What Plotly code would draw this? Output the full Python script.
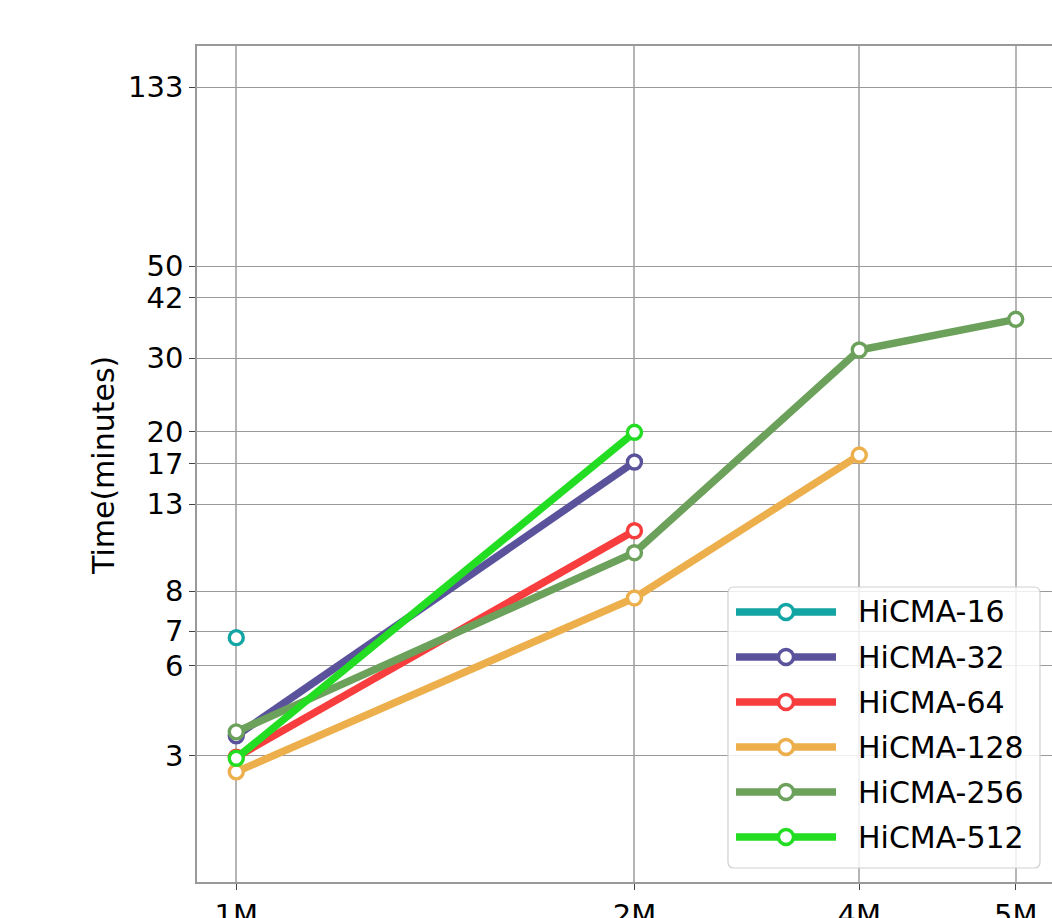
import plotly.graph_objects as go

# ---- data ----
x_vals = [1.0, 2.0, 2.958, 3.884]          # positions of the four problem sizes on the log x-axis
x_labels = ["1M", "2M", "4M", "5M"]

y_tickvals = [3.19, 5.27, 6.40, 8.00, 13.0, 16.25, 19.43, 29.34, 41.0, 49.0, 132.9]
y_ticktext = ["3", "6", "7", "8", "13", "17", "20", "30", "42", "50", "133"]

series_names = ["HiCMA-16", "HiCMA-32", "HiCMA-64", "HiCMA-128", "HiCMA-256", "HiCMA-512"]
hicma_16 = [6.17]
hicma_32 = [3.57, 16.43]
hicma_64 = [3.17, 11.20]
hicma_128 = [2.92, 7.70, 17.08]
hicma_256 = [3.65, 9.91, 30.68, 36.40]
hicma_512 = [3.15, 19.39]
series_values = [hicma_16, hicma_32, hicma_64, hicma_128, hicma_256, hicma_512]
colors = ["#13a4a4", "#5a539c", "#f73d3d", "#ecaf4b", "#6ca15b", "#22dd22"]

FONT = "DejaVu Sans"
W, H = 1052, 918
L, R, T, B = 197, 0, 46, 36
PW, PH = W - L - R, H - T - B


def px(xp):
    return (xp - L) / PW


def py(yp):
    return (H - B - yp) / PH


fig = go.Figure()
for name, vals, col in zip(series_names, series_values, colors):
    fig.add_trace(go.Scatter(
        x=x_vals[:len(vals)], y=vals, name=name, mode="lines+markers",
        line=dict(color=col, width=7.5),
        marker=dict(symbol="circle", size=14, color="white", line=dict(color=col, width=3.4)),
        showlegend=False,
    ))

shapes = []
annotations = []

# legend box (rounded)
bx0, bx1, by0, by1, r = px(728), px(1040), py(868), py(587), 6
rx, ry = r / PW, r / PH
path = (f"M{bx0+rx},{by0} L{bx1-rx},{by0} Q{bx1},{by0} {bx1},{by0+ry} "
        f"L{bx1},{by1-ry} Q{bx1},{by1} {bx1-rx},{by1} L{bx0+rx},{by1} "
        f"Q{bx0},{by1} {bx0},{by1-ry} L{bx0},{by0+ry} Q{bx0},{by0} {bx0+rx},{by0} Z")
shapes.append(dict(type="path", xref="paper", yref="paper", path=path,
                   fillcolor="rgba(255,255,255,0.82)", line=dict(color="#d0d0d0", width=1.2),
                   layer="above"))

row0, gap = 612, 45
for i, (name, col) in enumerate(zip(series_names, colors)):
    yy = py(row0 + i * gap)
    shapes.append(dict(type="line", xref="paper", yref="paper", x0=px(736), x1=px(836),
                       y0=yy, y1=yy, line=dict(color=col, width=7.5), layer="above"))
    shapes.append(dict(type="circle", xref="paper", yref="paper", xsizemode="pixel",
                       ysizemode="pixel", xanchor=px(786), yanchor=yy,
                       x0=-7.5, x1=7.5, y0=-7.5, y1=7.5,
                       fillcolor="white", line=dict(color=col, width=3.4), layer="above"))
    annotations.append(dict(x=px(856), y=yy, xref="paper", yref="paper", text=name,
                            showarrow=False, xanchor="left", yanchor="middle",
                            font=dict(family=FONT, size=30, color="black")))

annotations.append(dict(x=px(103), y=py(466), xref="paper", yref="paper",
                        text="Time(minutes)", textangle=-90, showarrow=False,
                        xanchor="center", yanchor="middle",
                        font=dict(family=FONT, size=30, color="black")))

fig.update_layout(
    width=W, height=H,
    margin=dict(l=L, r=R, t=T, b=B, pad=0),
    paper_bgcolor="white", plot_bgcolor="white",
    font=dict(family=FONT, size=29, color="black"),
    shapes=shapes, annotations=annotations,
    showlegend=False,
)
fig.update_xaxes(
    type="log", range=[-0.0297, 0.6167], tickvals=x_vals, ticktext=x_labels,
    showgrid=True, gridcolor="#b5b5b5", gridwidth=1.5,
    showline=True, mirror=True, linecolor="#999999", linewidth=1.5,
    ticks="outside", ticklen=6, tickcolor="#444444", tickwidth=1,
    tickfont=dict(family=FONT, size=29, color="black"), automargin=False,
    zeroline=False,
)
fig.update_yaxes(
    type="log", range=[0.19869, 2.2229], tickvals=y_tickvals, ticktext=y_ticktext,
    showgrid=True, gridcolor="#999999", gridwidth=1,
    showline=True, mirror=False, linecolor="#999999", linewidth=1.5,
    ticks="outside", ticklen=6, tickcolor="#444444", tickwidth=1,
    tickfont=dict(family=FONT, size=29, color="black"), automargin=False,
    zeroline=False,
)

fig.write_html("out.html")
